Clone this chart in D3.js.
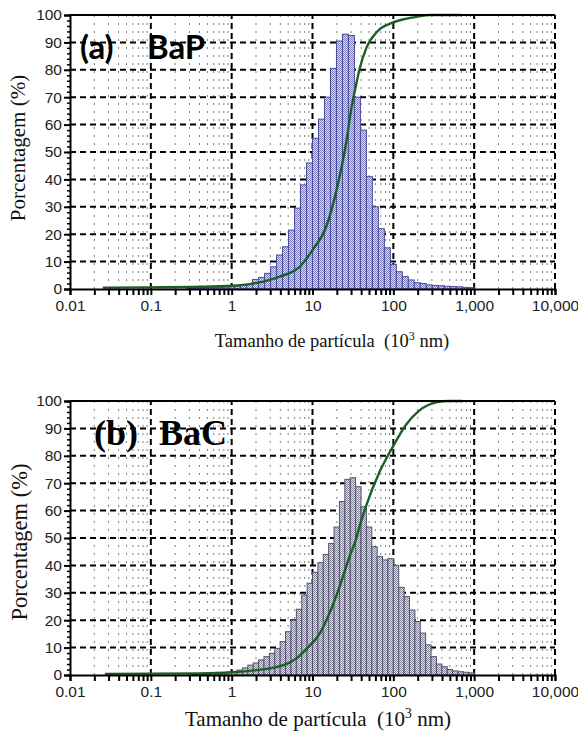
<!DOCTYPE html>
<html><head><meta charset="utf-8">
<script src="https://cdn.jsdelivr.net/npm/d3@7"></script>
<style>body{margin:0;background:#fff}</style>
</head><body>
<svg id="c" width="578" height="734" xmlns="http://www.w3.org/2000/svg"></svg>
<script>
// ---------- data ----------
const xTickValues = [0.01, 0.1, 1, 10, 100, 1000, 10000];
const xTickLabels = ["0.01", "0.1", "1", "10", "100", "1,000", "10,000"];
const yTickValues = [0, 10, 20, 30, 40, 50, 60, 70, 80, 90, 100];
const yTickLabels = ["0", "10", "20", "30", "40", "50", "60", "70", "80", "90", "100"];

// (a) BaP histogram: bin edges (10^3 nm) and percentage per bin
const bapBinEdges = [0.2783, 0.3301, 0.3915, 0.4642, 0.5506, 0.6530, 0.7743, 0.918, 1.089, 1.292,
  1.532, 1.816, 2.154, 2.555, 3.030, 3.594, 4.262, 5.054, 5.995, 7.110, 8.433, 10.0, 11.86, 14.07,
  16.68, 19.79, 23.47, 27.83, 33.01, 39.15, 46.42, 55.06, 65.30, 77.43, 91.84, 108.9, 129.2, 153.2,
  181.6, 215.4, 255.5, 303.0, 359.4, 426.2, 505.4, 599.5, 711.0, 843.3, 1000];
const bapPercent = [0.3, 0.3, 0.4, 0.5, 0.5, 0.6, 0.7, 0.8, 1.0, 1.3, 1.8, 3.5, 4.2, 5.7, 8.1, 12.4,
  15.4, 21.5, 29.5, 38, 46, 55, 62, 70, 80.5, 90.5, 93, 92.5, 70, 58, 41, 30,
  22, 15, 9, 6.3, 4.5, 3.3, 2.3, 2.0, 1.5, 1.3, 1.2, 1.0, 0.9, 0.8, 0.6, 0.5];
// (a) BaP cumulative curve
const bapCumSize = [0.0255, 0.0973, 0.403, 1.0, 1.667, 2.55, 3.91, 6.92, 10, 14.9, 19.8, 26.3, 30.3,
  34.9, 38.0, 46.4, 63.4, 94.4, 137, 209, 278, 692];
const bapCumPercent = [0.5, 0.6, 0.8, 1.2, 1.8, 2.8, 4.5, 8.1, 14.2, 23, 36, 54, 66,
  75, 80, 88, 94, 97, 98.5, 99.5, 100, 100];

// (b) BaC histogram
const bacBinEdges = [0.2929, 0.3415, 0.3981, 0.4642, 0.5412, 0.6310, 0.7356, 0.8577, 1.0, 1.166,
  1.359, 1.585, 1.848, 2.154, 2.512, 2.929, 3.415, 3.981, 4.642, 5.412, 6.310, 7.356, 8.577, 10.0,
  11.66, 13.59, 15.85, 18.48, 21.54, 25.12, 29.29, 34.15, 39.81, 46.42, 54.12, 63.10, 73.56, 85.77,
  100, 116.6, 135.9, 158.5, 184.8, 215.4, 251.2, 292.9, 341.5, 398.1, 464.2, 541.2, 631.0, 735.6,
  857.7, 1000];
const bacPercent = [0.3, 0.3, 0.4, 0.5, 0.6, 0.7, 0.8, 1.0, 1.3, 1.8, 2.6, 3.6, 4.4, 5.5, 6.7, 7.9,
  9.7, 12.2, 15.8, 20, 24, 29.2, 33.5, 37.5, 41, 44, 48, 54, 63.3, 71.4, 72, 68.7, 61.4, 54, 46.8,
  43.2, 42, 42.5, 40, 32, 28.6, 23.7, 19.5, 15.3, 11, 6.7, 4, 3, 2, 1.5, 1.2, 1.0, 0.8];
// (b) BaC cumulative curve
const bacCumSize = [0.027, 0.403, 1.0, 2.04, 3.21, 5.20, 6.92, 8.43, 12.2, 16.2, 21.5, 28.6, 34.9,
  38.0, 46.4, 67.2, 97.3, 145, 209, 339, 491, 711];
const bacCumPercent = [0.4, 0.6, 1.0, 1.8, 2.6, 4.5, 7, 9.5, 15, 22.5, 32, 43, 50,
  54, 62, 74, 83, 91.5, 96.5, 99.5, 100, 100];

const panelLabelParts = [["(a)", "BaP"], ["(b)", "BaC"]];
const yTitle = "Porcentagem (%)";

// ---------- drawing ----------
const svg = d3.select("#c");
const defs = svg.append("defs");
function checker(id, c1, c2) {
  const p = defs.append("pattern").attr("id", id).attr("width", 2).attr("height", 2)
    .attr("patternUnits", "userSpaceOnUse");
  p.append("rect").attr("width", 2).attr("height", 2).attr("fill", c2);
  p.append("rect").attr("width", 1).attr("height", 1).attr("fill", c1);
  p.append("rect").attr("x", 1).attr("y", 1).attr("width", 1).attr("height", 1).attr("fill", c1);
}
checker("patA", "#8080c4", "#d8d8f4");
checker("patB", "#86869c", "#dedee6");

const tickFont = "'Liberation Sans', Arial, sans-serif";
const serif = "'Liberation Serif', 'Times New Roman', serif";

function drawPanel(o) {
  const g = svg.append("g");
  const x = d3.scaleLog().domain([0.01, 10000]).range([70, 555]);
  const y = d3.scaleLinear().domain([0, 100]).range([o.bottom, o.top]);

  // minor vertical grid
  const minors = [];
  [0.01, 0.1, 1, 10, 100, 1000].forEach(d => { for (let m = 2; m <= 9; m++) minors.push(d * m); });
  g.append("g").selectAll("line").data(minors).join("line")
    .attr("x1", d => x(d)).attr("x2", d => x(d))
    .attr("y1", y(0)).attr("y2", y(100))
    .attr("stroke", "#555").attr("stroke-width", 1).attr("stroke-dasharray", "2,6")
    .attr("opacity", 0.75);
  // decade vertical grid
  g.append("g").selectAll("line").data(xTickValues.slice(1)).join("line")
    .attr("x1", d => x(d)).attr("x2", d => x(d))
    .attr("y1", y(0)).attr("y2", y(100))
    .attr("stroke", "#000").attr("stroke-width", 2).attr("stroke-dasharray", "6,4");
  // horizontal grid
  g.append("g").selectAll("line").data(yTickValues.slice(1, -1)).join("line")
    .attr("x1", x(0.01)).attr("x2", x(10000))
    .attr("y1", d => y(d)).attr("y2", d => y(d))
    .attr("stroke", "#000").attr("stroke-width", 2).attr("stroke-dasharray", "6,4");

  // bars
  g.append("g").selectAll("rect").data(o.values).join("rect")
    .attr("x", (d, i) => x(o.edges[i]))
    .attr("width", (d, i) => x(o.edges[i + 1]) - x(o.edges[i]))
    .attr("y", d => y(d))
    .attr("height", d => y(0) - y(d))
    .attr("fill", o.fill).attr("stroke", o.stroke).attr("stroke-width", 1);

  // cumulative curve
  const pts = o.cumSize.map((s, i) => [x(s), y(o.cumPct[i])]);
  g.append("path").datum(pts)
    .attr("d", d3.line().curve(d3.curveMonotoneX))
    .attr("fill", "none").attr("stroke", "#1b5e28").attr("stroke-width", 2.4);

  // top frame
  g.append("line").attr("x1", x(0.01)).attr("x2", x(10000)).attr("y1", y(100)).attr("y2", y(100))
    .attr("stroke", "#000").attr("stroke-width", 2);

  // y axis
  const yMinor = d3.range(0, 101, 2);
  const yAxMinor = g.append("g").attr("transform", `translate(${x(0.01)},0)`)
    .call(d3.axisLeft(y).tickValues(yMinor).tickSize(3).tickFormat(""));
  yAxMinor.select(".domain").remove();
  yAxMinor.selectAll("line").attr("stroke-width", 1.5);
  const yAx = g.append("g").attr("transform", `translate(${x(0.01)},0)`)
    .call(d3.axisLeft(y).tickValues(yTickValues).tickSize(6).tickPadding(2)
      .tickFormat((d, i) => yTickLabels[i]));
  yAx.select(".domain").attr("stroke-width", 2);
  yAx.selectAll("line").attr("stroke-width", 2);
  yAx.selectAll("text").attr("font-family", tickFont).attr("font-size", 15.5).attr("fill", "#222");

  // x axis
  const xAllTicks = xTickValues.concat(minors);
  const xAx = g.append("g").attr("transform", `translate(0,${y(0)})`)
    .call(d3.axisBottom(x).tickValues(xAllTicks).tickSize(6).tickPadding(5)
      .tickFormat(d => { const k = xTickValues.indexOf(d); return k >= 0 ? xTickLabels[k] : ""; }));
  xAx.select(".domain").attr("stroke-width", 2);
  xAx.selectAll("line").attr("stroke-width", 2);
  xAx.selectAll("text").attr("font-family", tickFont).attr("font-size", 15.5).attr("fill", "#222");

  // y title
  svg.append("text").attr("transform", `translate(${o.yTitleX},${o.yTitleY}) rotate(-90)`)
    .attr("text-anchor", "middle").attr("font-family", serif).attr("font-size", o.yTitleSize)
    .attr("fill", "#111").text(yTitle);
  // x title
  const xt = svg.append("text").attr("x", o.xTitleX).attr("y", o.xTitleY)
    .attr("text-anchor", "middle").attr("font-family", serif).attr("font-size", o.xTitleSize)
    .attr("fill", "#111");
  xt.append("tspan").text("Tamanho de partícula\u00a0\u00a0(10");
  xt.append("tspan").attr("font-size", o.xTitleSize * 0.65).attr("dy", -o.xTitleSize * 0.38).text("3");
  xt.append("tspan").attr("dy", o.xTitleSize * 0.38).text(" nm)");

  // panel label
  const lt = svg.append("text").attr("x", o.labelX).attr("y", o.labelY)
    .attr("font-family", o.labelFont).attr("font-weight", "bold").attr("font-size", o.labelSize)
    .attr("fill", "#000");
  lt.append("tspan").text(o.label[0]);
  lt.append("tspan").attr("x", o.label2X).text(o.label[1]);
}

drawPanel({
  top: 15, bottom: 289, edges: bapBinEdges, values: bapPercent,
  cumSize: bapCumSize, cumPct: bapCumPercent, fill: "url(#patA)", stroke: "#4a4a96",
  yTitleX: 25, yTitleY: 148, yTitleSize: 21, xTitleX: 332, xTitleY: 347, xTitleSize: 18.5,
  label: panelLabelParts[0], labelX: 80, label2X: 147, labelY: 59,
  labelFont: "Lato, 'Open Sans', sans-serif", labelSize: 33
});
drawPanel({
  top: 401, bottom: 675, edges: bacBinEdges, values: bacPercent,
  cumSize: bacCumSize, cumPct: bacCumPercent, fill: "url(#patB)", stroke: "#525268",
  yTitleX: 27, yTitleY: 542, yTitleSize: 22.5, xTitleX: 318, xTitleY: 726, xTitleSize: 21,
  label: panelLabelParts[1], labelX: 94, label2X: 159, labelY: 445, labelFont: serif, labelSize: 36
});
</script>
</body></html>
